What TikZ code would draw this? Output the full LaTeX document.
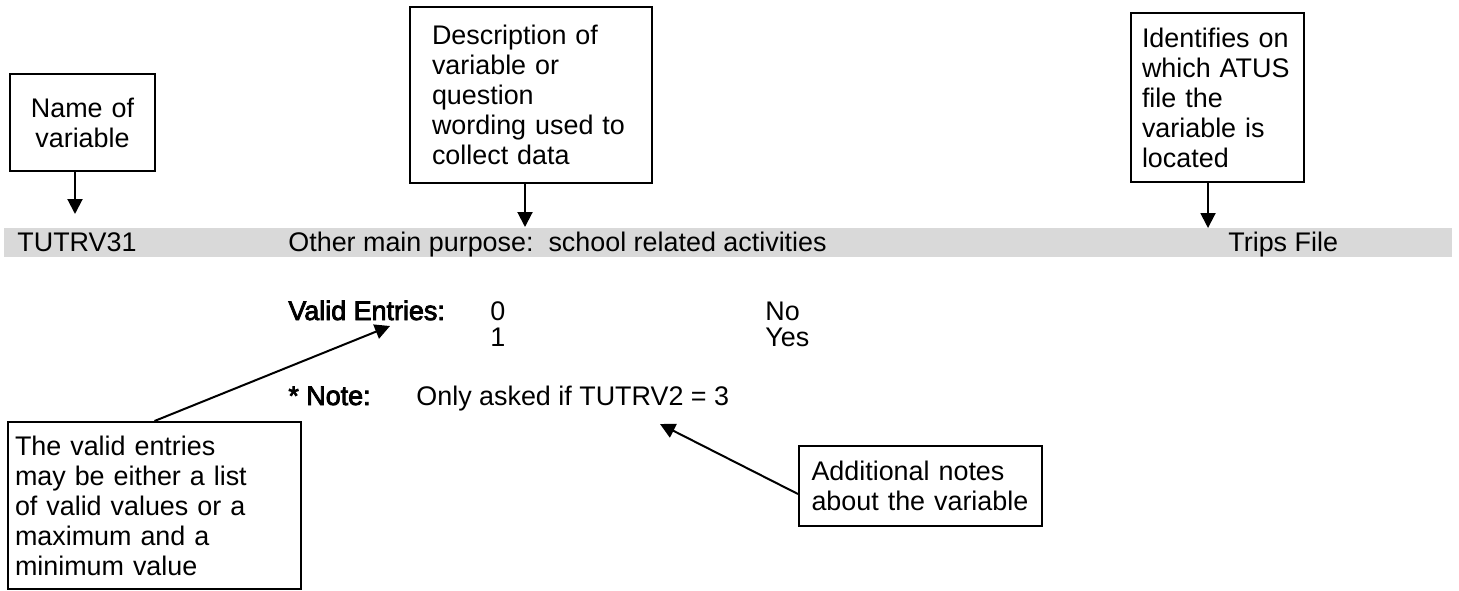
\documentclass[tikz,border=0pt]{standalone}
\usepackage{fontspec}
\setmainfont{Liberation Sans}
\newfontfamily\fakebold[FakeBold=3]{Liberation Sans}
\usetikzlibrary{arrows.meta}
\definecolor{barGrey}{HTML}{D9D9D9}
\tikzset{
  callout/.style={draw, line width=1pt, inner ysep=0pt, align=left},
  pointer/.style={line width=1pt, -{Triangle[length=7.5pt,width=7.5pt]}},
  entry/.style={anchor=base west, inner sep=0pt},
}

\begin{document}
\begin{tikzpicture}[x=0.5pt, y=-0.5pt, font=\fontsize{13.45}{15}\selectfont]
      \useasboundingbox (0,0) rectangle (1459,590);
      %
      \fill[barGrey] (4,228) rectangle (1452,257);   % record bar
      \node[entry] (varName) at (17,251) {TUTRV31};
      \node[entry] (varDesc) at (288,251) {Other main purpose:\ \ school related activities};
      \node[entry] (varFile) at (1228,251) {Trips File};
      %
      \node[entry] (validLbl) at (288,320) {\fakebold Valid Entries:};
      \node[entry] (valZero) at (490,320) {0};
      \node[entry] (valOne) at (490,346) {1};
      \node[entry] (lblNo) at (765,320) {No};
      \node[entry] (lblYes) at (765,346) {Yes};
      \node[entry] (noteLbl) at (288,405) {\fakebold * Note:};
      \node[entry] (noteTxt) at (416,405) {Only asked if TUTRV2 = 3};
      %
      % callout boxes
      \node[callout, align=center, inner xsep=5pt, text width=62.5pt, minimum height=48.5pt]
        (nameBox) at (82.5,122.5) {Name of\\variable};
      \node[callout, inner xsep=11pt, text width=99pt, minimum height=88pt]
        (descBox) at (531,95) {Description of\\variable or\\question\\wording used to\\collect data};
      \node[callout, inner xsep=5.5pt, text width=75.5pt, minimum height=84.5pt]
        (fileBox) at (1217.5,97.5) {Identifies on\\which ATUS\\file the\\variable is\\located};
      \node[callout, inner xsep=3.5pt, text width=139.5pt, minimum height=83.5pt]
        (validBox) at (154.5,505.5) {The valid entries\\may be either a list\\of valid values or a\\maximum and a\\minimum value};
      \node[callout, inner xsep=6.25pt, text width=109pt, minimum height=40pt]
        (noteBox) at (920.5,486) {Additional notes\\about the variable};
      %
      \coordinate (nameTip) at (75,214);
      \coordinate (descTip) at (525,227);
      \coordinate (fileTip) at (1208,228);
      \coordinate (validTip) at (390,326);
      \coordinate (noteTip) at (660,424);
      %
      \draw[pointer] (nameTip |- nameBox.south) -- (nameTip);
      \draw[pointer] (descTip |- descBox.south) -- (descTip);
      \draw[pointer] (fileTip |- fileBox.south) -- (fileTip);
      \draw[pointer] (validBox.north) -- (validTip);
      \draw[pointer] ([yshift=-4pt]noteBox.west) -- (noteTip);
      %
    \end{tikzpicture}
\end{document}
